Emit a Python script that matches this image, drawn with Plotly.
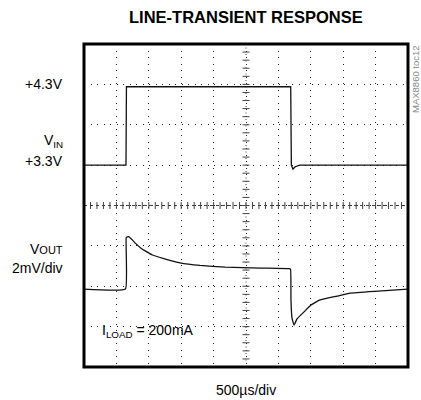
import plotly.graph_objects as go

# Scope settings (graticule = 10 x 8 divisions)
T_PER_DIV = 500.0          # µs per horizontal division
VIN_PER_DIV = 0.515        # V per division on the input channel
VIN_REF, VIN_REF_DIV = 3.3, 5.0
VOUT_PER_DIV = 2.0         # mV per division on the output channel
VOUT_REF_DIV = 1.93

# Input voltage step (time in µs, volts)
vin_t = [0, 648, 655, 3190, 3200, 3225, 3260, 3330, 5000]
vin_v = [3.3, 3.3, 4.3, 4.3, 3.3, 3.25, 3.28, 3.3, 3.3]

# Output deviation (time in µs, mV)
vout_t = [0, 640, 652, 690, 740, 800, 870, 950, 1050, 1219, 1481, 1790, 2176,
          2716, 3164, 3187, 3194, 3210, 3241, 3287, 3380, 3503, 3642, 3904,
          4105, 4537, 5000]
vout_mv = [0.0, 0.0, 2.55, 2.6, 2.45, 2.25, 2.05, 1.88, 1.70, 1.52, 1.30, 1.17,
           1.09, 1.04, 1.01, 0.99, -0.54, -1.44, -1.78, -1.48, -1.18, -0.79,
           -0.54, -0.35, -0.20, -0.10, 0.0]

x_in = [t / T_PER_DIV for t in vin_t]
y_in = [VIN_REF_DIV + (v - VIN_REF) / VIN_PER_DIV for v in vin_v]
x_out = [t / T_PER_DIV for t in vout_t]
y_out = [VOUT_REF_DIV + m / VOUT_PER_DIV for m in vout_mv]

FONT = "Liberation Sans, Arial, sans-serif"
ink = "#111111"

fig = go.Figure()

# center cross minor ticks
hx = [i * 0.2 for i in range(51)]
vy = [i * 0.2 for i in range(41)]
fig.add_trace(go.Scatter(x=hx, y=[4] * len(hx), mode="markers",
                         marker=dict(symbol="line-ns", size=5,
                                     line=dict(width=1, color="#444")),
                         hoverinfo="skip", showlegend=False))
fig.add_trace(go.Scatter(x=[5] * len(vy), y=vy, mode="markers",
                         marker=dict(symbol="line-ew", size=5,
                                     line=dict(width=1, color="#444")),
                         hoverinfo="skip", showlegend=False))

fig.add_trace(go.Scatter(x=x_in, y=y_in, mode="lines",
                         line=dict(color=ink, width=1.3),
                         hoverinfo="skip", showlegend=False))
fig.add_trace(go.Scatter(x=x_out, y=y_out, mode="lines",
                         line=dict(color=ink, width=1.3, shape="spline",
                                   smoothing=0.3),
                         hoverinfo="skip", showlegend=False))

grid = dict(showgrid=True, gridcolor="#222", gridwidth=1.3,
            griddash="1.3px,5.2px", zeroline=False, showticklabels=False,
            ticks="", showline=False, fixedrange=True)
fig.update_xaxes(range=[0, 10], dtick=1, **grid)
fig.update_yaxes(range=[0, 8], dtick=1, **grid)

# center cross lines
fig.add_shape(type="line", x0=0, x1=10, y0=4, y1=4, xref="x", yref="y",
              line=dict(color="#444", width=1, dash="3px,3px"), layer="below")
fig.add_shape(type="line", x0=5, x1=5, y0=0, y1=8, xref="x", yref="y",
              line=dict(color="#444", width=1, dash="1px,5.5px"), layer="below")
# frame
fig.add_shape(type="rect", x0=0, x1=1, y0=0, y1=1, xref="paper", yref="paper",
              line=dict(color="black", width=3))

W, H = 421, 400
L, R, T, B = 84, 13, 44, 33
pw, ph = W - L - R, H - T - B


def px(xp):
    return (xp - L) / pw


def py(yp):
    return (H - B - yp) / ph


def label(text, x, y, size=14, xanchor="right", **kw):
    fig.add_annotation(text=text, x=px(x), y=py(y), xref="paper", yref="paper",
                       xanchor=xanchor, yanchor="middle", showarrow=False,
                       font=dict(family=FONT, size=size, color="black"), **kw)


label("+4.3V", 65, 84)
label("V<sub>IN</sub>", 65, 141)
label("+3.3V", 65, 161)
label("V<span style='font-size:11px'>OUT</span>", 65, 249)
label("2mV/div", 65, 268)
label("I<sub>LOAD</sub> = 200mA", 100, 331, xanchor="left")
label("500µs/div", 246, 390, xanchor="center")
label("<b>LINE-TRANSIENT RESPONSE</b>", 246, 17, size=16.5, xanchor="center")
fig.add_annotation(text="MAX8860 toc12", x=px(416), y=py(43), xref="paper",
                   yref="paper", xanchor="center", yanchor="top",
                   textangle=-90, showarrow=False,
                   font=dict(family=FONT, size=9.5, color="#888"))

fig.update_layout(width=W, height=H, margin=dict(l=L, r=R, t=T, b=B),
                  paper_bgcolor="white", plot_bgcolor="white")

fig.write_html("out.html")
